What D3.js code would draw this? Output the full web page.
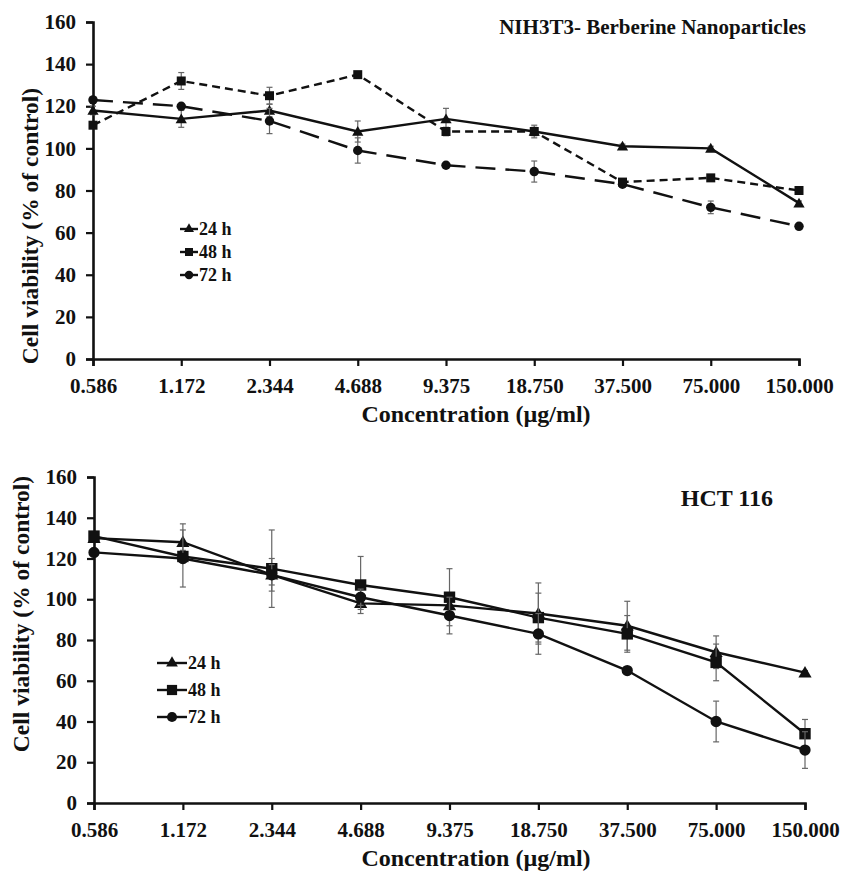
<!DOCTYPE html>
<html>
<head>
<meta charset="utf-8">
<script src="https://cdn.jsdelivr.net/npm/d3@7"></script>
<style>
  body { margin: 0; background: #fff; }
  text { font-family: "Liberation Serif", "Times New Roman", serif; font-weight: bold; fill: #111; }
</style>
</head>
<body>
<svg id="chart" width="841" height="874"></svg>
<script>
// concentrations (categorical axis)
const concLabels = ["0.586", "1.172", "2.344", "4.688", "9.375", "18.750", "37.500", "75.000", "150.000"];
const seriesNames = ["24 h", "48 h", "72 h"];
const yTicks = [0, 20, 40, 60, 80, 100, 120, 140, 160];

// NIH3T3 - Berberine nanoparticles
const nih24 = [118, 114, 118, 108, 114, 108, 101, 100, 74];
const nih48 = [111, 132, 125, 135, 108, 108, 84, 86, 80];
const nih72 = [123, 120, 113, 99, 92, 89, 83, 72, 63];
const nih24Err = [2, 4, 3, 5, 5, 2, 1, 1, 1];
const nih48Err = [1, 4, 4, 1, 2, 3, 1, 1, 1];
const nih72Err = [1, 1, 6, 6, 1, 5, 1, 3, 1];

// HCT 116
const hct24 = [130, 128, 112, 98, 97, 93, 87, 74, 64];
const hct48 = [131, 121, 115, 107, 101, 91, 83, 69, 34];
const hct72 = [123, 120, 112, 101, 92, 83, 65, 40, 26];
const hct24Err = [2, 9, 8, 3, 3, 15, 12, 8, 1];
const hct48Err = [2, 3, 19, 14, 14, 12, 9, 9, 7];
const hct72Err = [2, 14, 5, 4, 9, 10, 1, 10, 9];

var svg = d3.select("#chart");
svg.append("rect").attr("width", 841).attr("height", 874).attr("fill", "#fff");

function drawPanel(cfg) {
  var x = d3.scalePoint().domain(concLabels).range([cfg.x0, cfg.x1]).padding(0);
  var y = d3.scaleLinear().domain([0, 160]).range([cfg.y0, cfg.y1]);
  var g = svg.append("g");

  // axes
  var xAxis = g.append("g").attr("transform", "translate(0," + cfg.y0 + ")")
    .call(d3.axisBottom(x).tickSize(7).tickPadding(8));
  var yAxis = g.append("g").attr("transform", "translate(" + cfg.x0 + ",0)")
    .call(d3.axisLeft(y).tickValues(yTicks).tickSize(7).tickPadding(8));
  [xAxis, yAxis].forEach(function(a) {
    a.select(".domain").attr("stroke", "#111").attr("stroke-width", 2.6);
    a.selectAll(".tick line").attr("stroke", "#111").attr("stroke-width", 2.2);
    a.selectAll(".tick text").style("font-size", "21px").attr("fill", "#111")
      .style("font-family", "'Liberation Serif', serif").style("font-weight", "bold");
  });
  xAxis.selectAll(".tick text").attr("dy", "0.9em");
  yAxis.selectAll(".tick text").attr("dx", "-2");

  // series
  var series = cfg.series;
  series.forEach(function(s) {
    var pts = s.values.map(function(v, i) { return { c: concLabels[i], v: v, e: s.err[i] }; });
    // error bars
    var eb = g.append("g").attr("stroke", "#666").attr("stroke-width", 1.2);
    pts.forEach(function(p) {
      var cx = x(p.c);
      eb.append("line").attr("x1", cx).attr("x2", cx).attr("y1", y(p.v - p.e)).attr("y2", y(p.v + p.e));
      eb.append("line").attr("x1", cx - 3).attr("x2", cx + 3).attr("y1", y(p.v - p.e)).attr("y2", y(p.v - p.e));
      eb.append("line").attr("x1", cx - 3).attr("x2", cx + 3).attr("y1", y(p.v + p.e)).attr("y2", y(p.v + p.e));
    });
    var line = d3.line().x(function(d) { return x(d.c); }).y(function(d) { return y(d.v); });
    g.append("path").datum(pts).attr("d", line).attr("fill", "none")
      .attr("stroke", "#111").attr("stroke-width", 2.4)
      .attr("stroke-dasharray", s.dash || null);
    g.selectAll(null).data(pts).enter().append("path")
      .attr("transform", function(d) { return "translate(" + x(d.c) + "," + (y(d.v) + (s.sym === d3.symbolTriangle ? 1 : 0)) + ")"; })
      .attr("d", d3.symbol().type(s.sym).size(s.size))
      .attr("fill", "#111");
  });

  // legend
  series.forEach(function(s, i) {
    var ly = cfg.legY + i * cfg.legStep;
    g.append("line").attr("x1", cfg.legX).attr("x2", cfg.legX + cfg.legLen)
      .attr("y1", ly).attr("y2", ly).attr("stroke", "#111").attr("stroke-width", 2.4);
    g.append("path").attr("transform", "translate(" + (cfg.legX + cfg.legLen / 2) + "," + ly + ")")
      .attr("d", d3.symbol().type(s.sym).size(s.size * 0.8)).attr("fill", "#111");
    g.append("text").attr("x", cfg.legX + cfg.legLen + 1).attr("y", ly).attr("dy", "0.35em")
      .style("font-size", "18px").text(s.name);
  });

  // titles
  g.append("text").attr("x", cfg.titleX).attr("y", cfg.titleY).attr("text-anchor", "end")
    .style("font-size", cfg.titleSize).text(cfg.title);
  g.append("text").attr("x", 476).attr("y", cfg.y0 + 63).attr("text-anchor", "middle")
    .style("font-size", "24px").text("Concentration (µg/ml)");
  g.append("text").attr("transform", "translate(" + cfg.ytX + "," + cfg.ytY + ") rotate(-90)")
    .attr("text-anchor", "middle").attr("dy", "0.35em")
    .style("font-size", "23.5px").text("Cell viability (% of control)");
}

drawPanel({
  x0: 93, x1: 799, y0: 359, y1: 22,
  title: "NIH3T3- Berberine Nanoparticles", titleX: 806, titleY: 34, titleSize: "21px",
  legX: 180, legY: 229, legStep: 23, legLen: 18,
  ytX: 30, ytY: 226,
  series: [
    { name: seriesNames[0], values: nih24, err: nih24Err, sym: d3.symbolTriangle, size: 55, dash: null },
    { name: seriesNames[1], values: nih48, err: nih48Err, sym: d3.symbolSquare, size: 81, dash: "8,5" },
    { name: seriesNames[2], values: nih72, err: nih72Err, sym: d3.symbolCircle, size: 70, dash: "20,10" }
  ]
});

drawPanel({
  x0: 94, x1: 805, y0: 803, y1: 477,
  title: "HCT 116", titleX: 773, titleY: 506, titleSize: "24px",
  legX: 157, legY: 663, legStep: 27, legLen: 30,
  ytX: 21, ytY: 614,
  series: [
    { name: seriesNames[0], values: hct24, err: hct24Err, sym: d3.symbolTriangle, size: 75 },
    { name: seriesNames[1], values: hct48, err: hct48Err, sym: d3.symbolSquare, size: 130 },
    { name: seriesNames[2], values: hct72, err: hct72Err, sym: d3.symbolCircle, size: 100 }
  ]
});
</script>
</body>
</html>
